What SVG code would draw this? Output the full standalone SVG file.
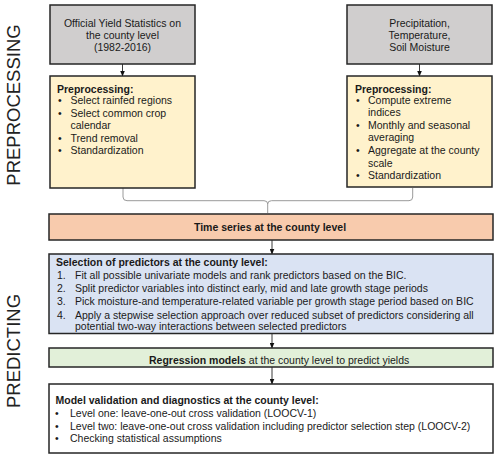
<svg xmlns="http://www.w3.org/2000/svg" width="500" height="459" viewBox="0 0 500 459">
<style>
text{font-family:"Liberation Sans",Arial,sans-serif;font-size:10.5px;fill:#1a1a1a}
.b{font-weight:bold}
.c{text-anchor:middle}
.side{font-size:18.5px;fill:#222}
.box{stroke:#262626;stroke-width:1.5}
.conn{stroke:#3a3a3a;stroke-width:1;fill:none}
.brace{stroke:#9a9a9a;stroke-width:1;fill:none}
</style>
<defs>
<marker id="ah" markerWidth="6" markerHeight="5" refX="5.5" refY="2.5" orient="auto" markerUnits="userSpaceOnUse">
<path d="M0,0 L6,2.5 L0,5 z" fill="#111"/>
</marker>
</defs>
<g id="labels">
<text class="side c" transform="translate(19.5,105) rotate(-90)">PREPROCESSING</text>
<text class="side c" transform="translate(19.5,351) rotate(-90)">PREDICTING</text>
</g>
<g id="connectors">
<line class="conn" x1="122.5" y1="64" x2="122.5" y2="76" marker-end="url(#ah)"/>
<line class="conn" x1="419.5" y1="64" x2="419.5" y2="76" marker-end="url(#ah)"/>
<path class="brace" d="M123,188 V197 Q123,200.7 127,200.7 H264 Q267.7,200.7 267.7,204 V213 M267.7,204 Q267.7,200.7 271.5,200.7 H409 Q412.7,200.7 412.7,197 V188"/>
<line class="conn" x1="272" y1="240" x2="272" y2="254" marker-end="url(#ah)"/>
<line class="conn" x1="272" y1="333.5" x2="272" y2="348" marker-end="url(#ah)"/>
<line class="conn" x1="272" y1="367" x2="272" y2="384" marker-end="url(#ah)"/>
</g>
<g id="yield-stats">
<rect class="box" x="50" y="5" width="145" height="59" fill="#d0cece"/>
<text class="c" x="122.5" y="26.7">Official Yield Statistics on</text>
<text class="c" x="122.5" y="38.9">the county level</text>
<text class="c" x="122.5" y="51.4">(1982-2016)</text>
</g>
<g id="climate-data">
<rect class="box" x="347" y="5" width="145" height="59" fill="#d0cece"/>
<text class="c" x="419.5" y="26.7">Precipitation,</text>
<text class="c" x="419.5" y="38.9">Temperature,</text>
<text class="c" x="419.5" y="51">Soil Moisture</text>
</g>
<g id="preproc-yield">
<rect class="box" x="50" y="76" width="145" height="112" fill="#fff2cc"/>
<text class="b" x="57" y="92.8">Preprocessing:</text>
<text x="58" y="103.5">•</text><text x="70.5" y="103.5">Select rainfed regions</text>
<text x="58" y="116.5">•</text><text x="70.5" y="116.5">Select common crop</text>
<text x="70.5" y="129">calendar</text>
<text x="58" y="141.6">•</text><text x="70.5" y="141.6">Trend removal</text>
<text x="58" y="154.3">•</text><text x="70.5" y="154.3">Standardization</text>
</g>
<g id="preproc-climate">
<rect class="box" x="347" y="76" width="145" height="111" fill="#fff2cc"/>
<text class="b" x="355" y="92.8">Preprocessing:</text>
<text x="356" y="103.5">•</text><text x="368" y="103.5">Compute extreme</text>
<text x="368" y="116.3">indices</text>
<text x="356" y="128.7">•</text><text x="368" y="128.7">Monthly and seasonal</text>
<text x="368" y="141.3">averaging</text>
<text x="356" y="154">•</text><text x="368" y="154">Aggregate at the county</text>
<text x="368" y="166.7">scale</text>
<text x="356" y="179.3">•</text><text x="368" y="179.3">Standardization</text>
</g>
<g id="time-series">
<rect class="box" x="49" y="214" width="444" height="26" fill="#f8cbad"/>
<text class="b c" x="270" y="230.7">Time series at the county level</text>
</g>
<g id="selection">
<rect class="box" x="49" y="254" width="444" height="79.5" fill="#dae3f3"/>
<text class="b" x="56" y="265.5">Selection of predictors at the county level:</text>
<text x="57" y="278.7">1.</text><text x="75" y="278.7">Fit all possible univariate models and rank predictors based on the BIC.</text>
<text x="57" y="292">2.</text><text x="75" y="292">Split predictor variables into distinct early, mid and late growth stage periods</text>
<text x="57" y="305.3">3.</text><text x="75" y="305.3">Pick moisture-and temperature-related variable per growth stage period based on BIC</text>
<text x="57" y="318.6">4.</text><text x="75" y="318.6">Apply a stepwise selection approach over reduced subset of predictors considering all</text>
<text x="75" y="330.3">potential two-way interactions between selected predictors</text>
</g>
<g id="regression">
<rect class="box" x="49" y="348" width="444" height="19" fill="#e2f0d9"/>
<text x="149" y="364.2"><tspan class="b">Regression models</tspan> at the county level to predict yields</text>
</g>
<g id="validation">
<rect class="box" x="49" y="384" width="444" height="69" fill="#ffffff"/>
<text class="b" x="55.5" y="403.7">Model validation and diagnostics at the county level:</text>
<text x="55" y="417">•</text><text x="70" y="417">Level one: leave-one-out cross validation (LOOCV-1)</text>
<text x="55" y="429.6">•</text><text x="70" y="429.6">Level two: leave-one-out cross validation including predictor selection step (LOOCV-2)</text>
<text x="55" y="442">•</text><text x="70" y="442">Checking statistical assumptions</text>
</g>
</svg>
